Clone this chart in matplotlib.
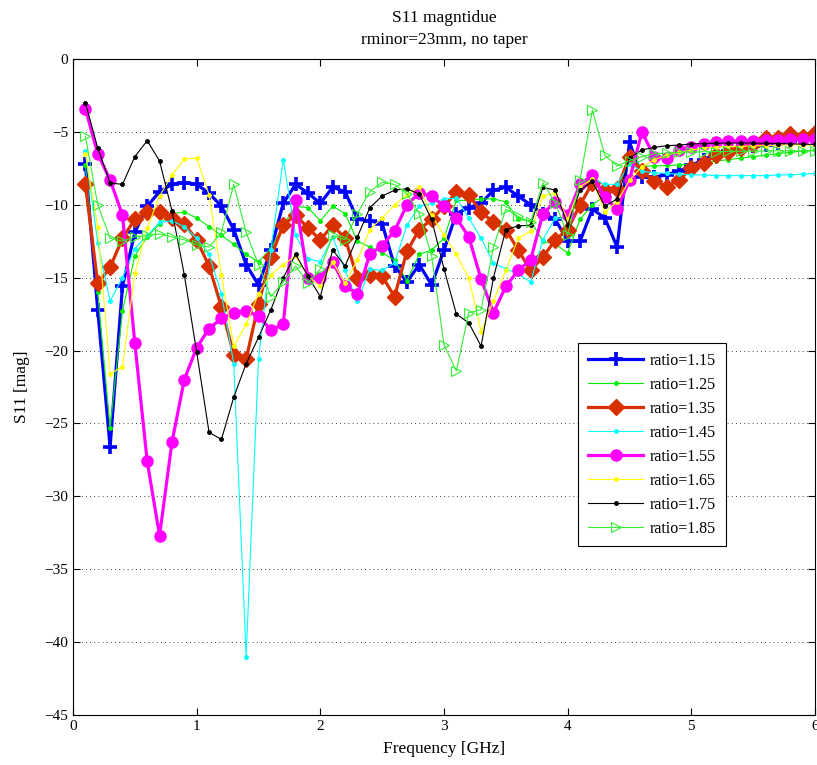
import matplotlib
matplotlib.use("Agg")
import matplotlib.pyplot as plt
import numpy as np

plt.rcParams['font.family'] = ['Liberation Serif', 'DejaVu Serif']
plt.rcParams['mathtext.fontset'] = 'stix'

freq = [round(0.1 * k, 1) for k in range(1, 61)]

r115 = [-7.2, -17.2, -26.6, -15.6, -11.9, -10.1, -9.1, -8.6, -8.5, -8.6,
        -9.2, -10.1, -11.7, -14.1, -15.5, -13.1, -9.9, -8.6, -9.2, -9.9,
        -8.8, -9.1, -11.0, -11.1, -11.3, -14.2, -15.3, -14.1, -15.5, -13.1,
        -10.6, -10.2, -9.9, -9.0, -8.8, -9.4, -10.0, -10.6, -11.0, -12.5,
        -12.5, -10.3, -10.9, -12.9, -5.7, -8.1, -8.1, -7.95, -7.7, -7.3,
        -6.9, -6.5, -6.3, -6.15, -6.0, -5.9, -5.75, -5.6, -5.45, -5.3]
r125 = [-7.3, -16.0, -25.3, -17.3, -13.5, -12.2, -11.3, -10.6, -10.5, -10.9,
        -11.5, -12.1, -12.7, -13.4, -13.9, -13.0, -11.4, -10.1, -10.2, -11.1,
        -10.1, -10.6, -12.5, -12.9, -13.3, -13.8, -15.2, -13.4, -13.1, -12.3,
        -9.7, -9.7, -9.6, -9.6, -9.8, -11.0, -11.1, -12.5, -12.7, -13.3,
        -11.0, -10.0, -9.4, -8.8, -6.9, -7.35, -7.35, -7.3, -7.27, -7.2,
        -7.1, -7.0, -6.9, -6.8, -6.7, -6.6, -6.5, -6.4, -6.3, -6.25]
r135 = [-8.6, -15.4, -14.3, -12.3, -11.0, -10.5, -10.5, -10.9, -11.3, -12.4,
        -14.2, -17.0, -20.3, -20.6, -16.8, -13.6, -11.4, -10.7, -11.6, -12.4,
        -11.4, -12.3, -15.0, -14.8, -14.9, -16.3, -13.2, -11.7, -11.0, -10.1,
        -9.15, -9.3, -10.5, -11.2, -11.7, -13.1, -14.5, -13.6, -12.4, -11.7,
        -10.0, -8.5, -9.0, -8.9, -6.7, -7.7, -8.4, -8.75, -8.3, -7.5,
        -7.15, -6.6, -6.35, -6.1, -5.8, -5.45, -5.4, -5.15, -5.35, -5.05]
r145 = [-6.3, -12.6, -16.6, -15.0, -13.0, -12.1, -11.2, -11.1, -11.5, -12.3,
        -13.4, -16.1, -20.9, -41.0, -20.6, -13.1, -6.9, -12.1, -13.7, -13.9,
        -12.2, -14.5, -16.6, -14.4, -14.5, -14.0, -11.4, -10.1, -9.9, -9.6,
        -9.55, -10.9, -12.3, -14.0, -14.4, -14.75, -15.3, -12.4, -10.9, -11.0,
        -8.75, -8.2, -8.6, -8.6, -7.2, -7.7, -7.8, -7.85, -7.9, -7.95,
        -7.95, -8.0, -8.0, -8.0, -8.0, -8.0, -7.95, -7.95, -7.9, -7.85]
r155 = [-3.4, -6.5, -8.3, -10.7, -19.5, -27.6, -32.7, -26.3, -22.0, -19.8,
        -18.5, -17.8, -17.4, -17.3, -17.6, -18.6, -18.2, -9.7, -15.0, -15.0,
        -13.9, -15.6, -16.1, -13.4, -12.8, -11.8, -10.0, -9.2, -9.4, -10.1,
        -10.9, -12.2, -15.1, -17.4, -15.6, -14.5, -13.8, -10.6, -9.8, -10.7,
        -8.6, -7.96, -9.5, -10.3, -8.3, -5.0, -6.7, -6.8, -6.25, -6.05,
        -5.8, -5.7, -5.65, -5.6, -5.6, -5.55, -5.55, -5.5, -5.5, -5.5]
r165 = [-6.5, -11.5, -21.6, -21.1, -14.7, -11.6, -9.4, -7.96, -6.86, -6.8,
        -9.3, -14.8, -19.7, -18.2, -16.1, -14.8, -14.1, -13.5, -14.9, -15.6,
        -13.9, -15.4, -13.8, -11.7, -10.9, -10.0, -9.3, -8.8, -10.7, -12.1,
        -13.4, -15.0, -18.7, -16.6, -14.5, -12.3, -11.8, -9.4, -9.2, -11.0,
        -8.75, -8.25, -10.5, -9.8, -8.3, -7.4, -6.9, -6.6, -6.4, -6.25,
        -6.1, -6.05, -6.0, -6.0, -5.95, -5.95, -5.9, -5.9, -5.9, -5.9]
r175 = [-3.0, -6.1, -8.5, -8.6, -6.7, -5.6, -7.0, -10.4, -14.8, -20.1,
        -25.6, -26.1, -23.2, -20.9, -19.1, -17.2, -15.0, -13.4, -14.9, -16.3,
        -13.1, -14.2, -12.2, -10.2, -9.4, -9.0, -8.9, -9.26, -11.0, -14.4,
        -17.5, -18.1, -19.7, -15.0, -11.7, -11.45, -11.4, -8.8, -9.0, -11.4,
        -9.0, -8.4, -10.1, -9.6, -6.8, -6.24, -6.06, -5.95, -5.9, -5.83,
        -5.8, -5.78, -5.76, -5.76, -5.76, -5.78, -5.8, -5.82, -5.84, -5.86]
r185 = [-5.3, -10.0, -12.3, -12.5, -12.2, -12.1, -12.0, -12.2, -12.4, -12.75,
        -12.9, -11.9, -8.6, -11.9, -14.1, -16.3, -15.3, -14.2, -15.4, -14.4,
        -12.1, -12.4, -10.6, -9.1, -8.46, -8.6, -9.26, -10.6, -13.5, -19.6,
        -21.4, -17.4, -17.2, -12.9, -10.3, -10.8, -11.2, -8.5, -9.85, -12.1,
        -8.3, -3.5, -6.6, -7.34, -6.97, -6.7, -6.5, -6.45, -6.4, -6.38,
        -6.36, -6.35, -6.34, -6.33, -6.32, -6.31, -6.3, -6.3, -6.3, -6.3]

labels = ['ratio=1.15', 'ratio=1.25', 'ratio=1.35', 'ratio=1.45',
          'ratio=1.55', 'ratio=1.65', 'ratio=1.75', 'ratio=1.85']
x_ticks = [0, 1, 2, 3, 4, 5, 6]
y_ticks = [0, -5, -10, -15, -20, -25, -30, -35, -40, -45]

series = [r115, r125, r135, r145, r155, r165, r175, r185]
styles = [
    dict(color='#0000FF', lw=2.3, marker='+', ms=10, mew=2.6),
    dict(color='#00EE00', lw=0.8, marker='.', ms=5),
    dict(color='#D93000', lw=2.3, marker='D', ms=8, mew=1),
    dict(color='#00FFFF', lw=0.8, marker='.', ms=5),
    dict(color='#FF00FF', lw=2.3, marker='o', ms=8, mew=1),
    dict(color='#FFFF00', lw=0.8, marker='.', ms=5),
    dict(color='#000000', lw=0.8, marker='.', ms=5),
    dict(color='#33EE33', lw=0.8, marker='>', ms=7, mfc='none', mew=0.8),
]

fig = plt.figure(figsize=(8.17, 7.65), dpi=100)
ax = fig.add_axes([73/817, 50/765, 742/817, 656/765])

for ys, lab, st in zip(series, labels, styles):
    ax.plot(freq, ys, label=lab, **st)

ax.set_xlim(0, 6)
ax.set_ylim(-45, 0)
ax.set_xticks(x_ticks)
ax.set_yticks(y_ticks)
ax.tick_params(direction='in', top=True, right=True, length=5, labelsize=11)
ax.yaxis.grid(True, linestyle=(0, (1, 4)), color='black', lw=0.6)
for s in ax.spines.values():
    s.set_linewidth(0.8)

ax.set_xlabel('Frequency [GHz]', fontsize=12.5, labelpad=6)
ax.set_ylabel('S11 [mag]', fontsize=12.5, labelpad=10)
ax.set_title('S11 magntidue\nrminor=23mm, no taper', fontsize=12.5, pad=11, linespacing=1.5)

leg = ax.legend(loc='upper left', bbox_to_anchor=(0.6806, 0.567), fontsize=11.5,
                frameon=True, fancybox=False, edgecolor='black', framealpha=1,
                borderaxespad=0.0,
                handlelength=3.5, labelspacing=0.5, borderpad=0.6, handletextpad=0.4)
leg.get_frame().set_linewidth(0.8)

fig.savefig('out.png', dpi=100)
